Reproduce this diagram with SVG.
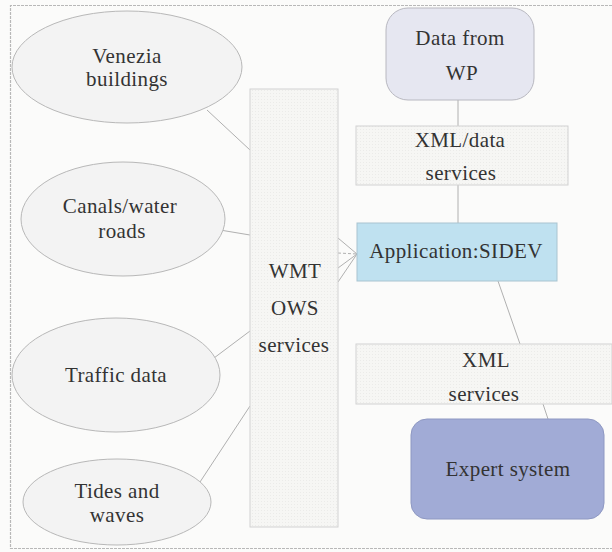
<svg xmlns="http://www.w3.org/2000/svg" width="612" height="552" viewBox="0 0 612 552">
<defs>
<pattern id="grid" width="3" height="3" patternUnits="userSpaceOnUse">
<rect width="3" height="3" fill="#f6f6f4"/>
<rect width="1" height="1" fill="#ebebe9"/>
</pattern>
</defs>
<style>
text{font-family:"Liberation Serif","Times New Roman",serif;font-size:21px;fill:#333;text-anchor:middle;letter-spacing:0.4px}
.ell{fill:#f3f3f3;stroke:#b8b8b8;stroke-width:1}
.svc{fill:url(#grid);stroke:#d2d2d2;stroke-width:1}
.c{stroke:#b0b0b0;stroke-width:1;fill:none}
.frame{stroke:#b8b8b8;stroke-width:1.2;fill:none;stroke-dasharray:3 1}
</style>
<rect width="612" height="552" fill="#fbfbfa"/>
<path class="frame" d="M612,5.5 H10.5 V548.5 H612"/>
<g id="connectors">
<line class="c" x1="207" y1="110" x2="250" y2="150"/>
<line class="c" x1="214" y1="229" x2="250" y2="235"/>
<line class="c" x1="214" y1="358" x2="250" y2="331"/>
<line class="c" x1="200" y1="482" x2="250" y2="406"/>
<line class="c" x1="338" y1="238" x2="357" y2="254"/>
<line class="c" x1="338" y1="253" x2="357" y2="254" stroke-dasharray="3 2"/>
<line class="c" x1="338" y1="268" x2="357" y2="254"/>
<line class="c" x1="338" y1="282" x2="357" y2="254"/>
<line class="c" x1="458" y1="100" x2="458" y2="126"/>
<line class="c" x1="458" y1="185" x2="458" y2="223"/>
<line class="c" x1="498" y1="281" x2="520" y2="344"/>
<line class="c" x1="543" y1="404" x2="548" y2="419"/>
</g>
<g id="venezia">
<ellipse class="ell" cx="127" cy="67" rx="115" ry="56"/>
<text x="127" y="63">Venezia</text>
<text x="127" y="86">buildings</text>
</g>
<g id="canals">
<ellipse class="ell" cx="123" cy="219" rx="102" ry="57"/>
<text x="120" y="213">Canals/water</text>
<text x="122" y="238">roads</text>
</g>
<g id="traffic">
<ellipse class="ell" cx="116" cy="375" rx="104" ry="57"/>
<text x="116" y="382">Traffic data</text>
</g>
<g id="tides">
<ellipse class="ell" cx="117" cy="502" rx="94" ry="43"/>
<text x="117" y="498">Tides and</text>
<text x="117" y="522">waves</text>
</g>
<g id="wmt">
<rect class="svc" x="250" y="89" width="88" height="438"/>
<text x="295" y="278">WMT</text>
<text x="295" y="315">OWS</text>
<text x="294" y="352">services</text>
</g>
<g id="datawp">
<rect x="386" y="8" width="148" height="92" rx="22" fill="#e6e7f1" stroke="#b8b8c0" stroke-width="1"/>
<text x="460" y="45">Data from</text>
<text x="462" y="80">WP</text>
</g>
<g id="xmldata">
<rect class="svc" x="356" y="126" width="212" height="59"/>
<text x="460" y="147">XML/data</text>
<text x="461" y="180">services</text>
</g>
<g id="sidev">
<rect x="357" y="223" width="200" height="58" fill="#bfe1f0" stroke="#a9c4d0" stroke-width="1"/>
<text x="456" y="258">Application:SIDEV</text>
</g>
<g id="xmlsvc">
<rect class="svc" x="356" y="344" width="256" height="60"/>
<text x="486" y="367">XML</text>
<text x="484" y="401">services</text>
</g>
<g id="expert">
<rect x="411" y="419" width="193" height="100" rx="16" fill="#a1abd6" stroke="#8e98c2" stroke-width="1"/>
<text x="508" y="476">Expert system</text>
</g>
</svg>
